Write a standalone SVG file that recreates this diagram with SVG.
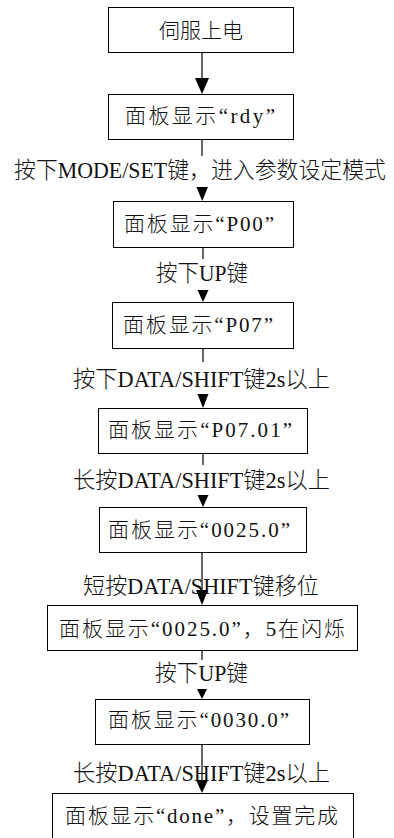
<svg xmlns="http://www.w3.org/2000/svg" width="394" height="838" viewBox="0 0 394 838">
<style>
.box rect{fill:#fff;stroke:#000;stroke-width:1}
.bt{font-family:"Liberation Serif","Noto Sans CJK SC",serif;font-size:21px;font-weight:300;fill:#111}
.lb{font-family:"Liberation Serif","Noto Sans CJK SC",serif;font-size:23px;font-weight:300;fill:#111}
.conn line{stroke:#000;stroke-width:1.2}
.conn polygon{fill:#000}
</style>
<rect width="394" height="838" fill="#fff"/>
<g id="n1" class="box"><rect x="108.5" y="7.5" width="185" height="45"/><text class="bt" x="201" y="37.5" text-anchor="middle">伺服上电</text></g>
<g id="n2" class="box"><rect x="108.5" y="94.5" width="185" height="45"/><text class="bt" x="125" y="122.5" textLength="150" lengthAdjust="spacing">面板显示“rdy”</text></g>
<g id="n3" class="box"><rect x="113.5" y="201.5" width="180" height="46"/><text class="bt" x="124" y="230.5" textLength="150" lengthAdjust="spacing">面板显示“P00”</text></g>
<g id="n4" class="box"><rect x="112.5" y="302.5" width="181" height="46"/><text class="bt" x="123" y="332" textLength="150" lengthAdjust="spacing">面板显示“P07”</text></g>
<g id="n5" class="box"><rect x="98.5" y="408.5" width="209" height="45"/><text class="bt" x="108" y="437" textLength="184" lengthAdjust="spacing">面板显示“P07.01”</text></g>
<g id="n6" class="box"><rect x="99.5" y="507.5" width="207" height="45"/><text class="bt" x="108" y="536.5" textLength="182" lengthAdjust="spacing">面板显示“0025.0”</text></g>
<g id="n7" class="box"><rect x="47.5" y="605.5" width="310" height="45"/><text class="bt" x="59" y="635.5" textLength="286" lengthAdjust="spacing">面板显示“0025.0”，5在闪烁</text></g>
<g id="n8" class="box"><rect x="95.5" y="699.5" width="214" height="45"/><text class="bt" x="108" y="726.5" textLength="181" lengthAdjust="spacing">面板显示“0030.0”</text></g>
<g id="n9" class="box"><rect x="52.5" y="793.5" width="301" height="50"/><text class="bt" x="65" y="823" textLength="273" lengthAdjust="spacing">面板显示“done”，设置完成</text></g>
<g id="labels">
<text class="lb" x="14" y="178" textLength="372" lengthAdjust="spacingAndGlyphs">按下MODE/SET键，进入参数设定模式</text>
<text class="lb" x="156" y="281" textLength="92" lengthAdjust="spacingAndGlyphs">按下UP键</text>
<text class="lb" x="73" y="386.5" textLength="257" lengthAdjust="spacingAndGlyphs">按下DATA/SHIFT键2s以上</text>
<text class="lb" x="73" y="487.5" textLength="257" lengthAdjust="spacingAndGlyphs">长按DATA/SHIFT键2s以上</text>
<text class="lb" x="83" y="593.5" textLength="236" lengthAdjust="spacingAndGlyphs">短按DATA/SHIFT键移位</text>
<text class="lb" x="155" y="681" textLength="93" lengthAdjust="spacingAndGlyphs">按下UP键</text>
<text class="lb" x="73" y="781" textLength="257" lengthAdjust="spacingAndGlyphs">长按DATA/SHIFT键2s以上</text>
</g>
<g id="connectors" class="conn">
<line x1="202" y1="53" x2="202" y2="80"/><polygon points="195,78 209,78 202,94"/>
<line x1="202" y1="140" x2="202" y2="156"/><polygon points="196.5,187 208,187 202.2,201"/>
<line x1="203" y1="248" x2="203" y2="259"/><polygon points="197.5,290 208.5,290 203,302"/>
<line x1="203" y1="349" x2="203" y2="362"/><polygon points="197.5,394 208.5,394 203,408"/>
<line x1="203" y1="454" x2="203" y2="465"/><polygon points="197.5,495 208.5,495 203,507"/>
<line x1="202" y1="553" x2="202" y2="592"/><polygon points="196,590 208,590 202,605"/>
<line x1="202" y1="651" x2="202" y2="660"/><polygon points="197,689 207,689 202,699"/>
<line x1="202" y1="745" x2="202" y2="782"/><polygon points="196,780 208,780 202,793"/>
</g>
</svg>
